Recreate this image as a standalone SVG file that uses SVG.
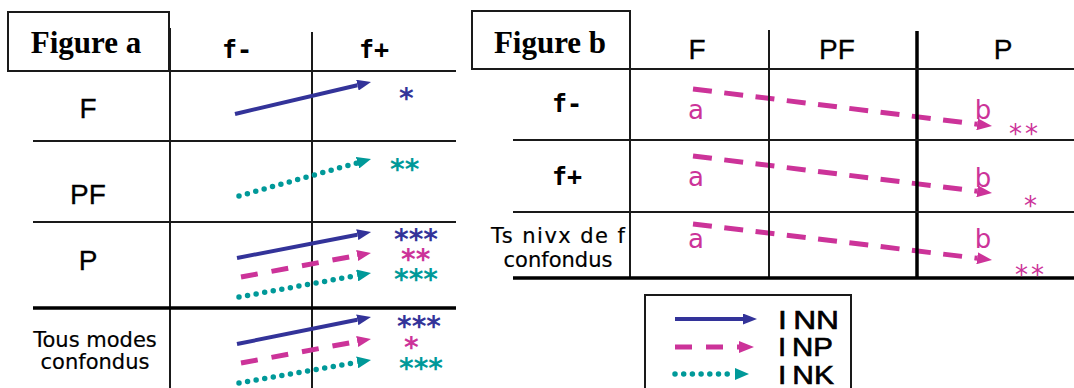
<svg xmlns="http://www.w3.org/2000/svg" width="1074" height="388" viewBox="0 0 1074 388">
<defs>
<style>
.g{stroke:#1a1a1a;stroke-width:2;fill:none}
.gt{stroke:#000;stroke-width:3.5;fill:none}
.ttl{font-family:"Liberation Serif",serif;font-weight:bold;font-size:31px;fill:#000;text-anchor:middle}
.hd{font-family:"Liberation Sans",Arial,sans-serif;font-size:28px;fill:#000;text-anchor:middle;stroke:#000;stroke-width:0.3}
.mono{font-family:"DejaVu Sans Mono",monospace;font-weight:bold;font-size:25px;fill:#000;text-anchor:middle}
.sm{font-family:"DejaVu Sans",sans-serif;font-size:21px;fill:#000;text-anchor:middle;stroke:#000;stroke-width:0.2}
.ab{font-family:"DejaVu Sans",sans-serif;font-size:26px;fill:#cc3399;text-anchor:middle}
.blue{stroke:#333399;stroke-width:4;fill:none}
.mag{stroke:#cc3399;stroke-width:5;fill:none;stroke-dasharray:17 14}
.magb{stroke:#cc3399;stroke-width:5;fill:none;stroke-dasharray:19 12.5}
.teal{stroke:#009999;stroke-width:5.5;fill:none;stroke-dasharray:0 8.7;stroke-linecap:round}
.st{font-family:"DejaVu Sans",sans-serif;font-weight:bold;font-size:28px}
.sts{font-family:"DejaVu Sans",sans-serif;font-size:26px;fill:#cc3399;letter-spacing:3px}
.leg{font-family:"Liberation Sans",Arial,sans-serif;font-size:25px;fill:#000;stroke:#000;stroke-width:0.6}
</style>
<marker id="hb" markerUnits="userSpaceOnUse" markerWidth="14" markerHeight="11" refX="0" refY="5.5" orient="auto"><path d="M0,0L14,5.5L0,11z" fill="#333399"/></marker>
<marker id="hm" markerUnits="userSpaceOnUse" markerWidth="14" markerHeight="11" refX="0" refY="5.5" orient="auto"><path d="M0,0L14,5.5L0,11z" fill="#cc3399"/></marker>
<marker id="ht" markerUnits="userSpaceOnUse" markerWidth="14" markerHeight="12" refX="0" refY="6" orient="auto"><path d="M0,0L14,6L0,12z" fill="#009999"/></marker>
<marker id="hm2" markerUnits="userSpaceOnUse" markerWidth="15" markerHeight="12" refX="0" refY="6" orient="auto"><path d="M0,0L15,6L0,12z" fill="#cc3399"/></marker>
</defs>
<rect width="1074" height="388" fill="#fff"/>

<g id="figure-a-grid">
<rect class="g" x="8" y="12" width="161" height="59"/>
<line class="g" x1="170" y1="28" x2="170" y2="388"/>
<line class="g" x1="312" y1="32" x2="312" y2="388"/>
<line class="g" x1="169" y1="71" x2="456" y2="71"/>
<line class="g" x1="33" y1="141" x2="456" y2="141"/>
<line class="g" x1="33" y1="222" x2="456" y2="222"/>
<line class="gt" x1="33" y1="308" x2="456" y2="308"/>
</g>
<g id="figure-a-title"><text class="ttl" x="86" y="53">Figure a</text></g>
<g id="a-col-fminus"><text class="mono" x="237" y="58">f-</text></g>
<g id="a-col-fplus"><text class="mono" x="374" y="58">f+</text></g>
<g id="a-row-F"><text class="hd" x="88" y="118">F</text></g>
<g id="a-row-PF"><text class="hd" x="88" y="204">PF</text></g>
<g id="a-row-P"><text class="hd" x="88" y="270">P</text></g>
<g id="a-row-tous"><text class="sm" x="95" y="347">Tous modes</text><text class="sm" x="95" y="369">confondus</text></g>

<g id="connectors">
<line class="blue" x1="235" y1="114" x2="357.4" y2="85.2" marker-end="url(#hb)"/>
<line class="teal" x1="239" y1="196" x2="357.5" y2="162.8" marker-end="url(#ht)"/>
<line class="blue" x1="237" y1="258" x2="357.3" y2="234.7" marker-end="url(#hb)"/>
<line class="mag" x1="241" y1="277" x2="357.2" y2="255.5" marker-end="url(#hm)"/>
<line class="teal" x1="239" y1="297" x2="357.2" y2="275.5" marker-end="url(#ht)"/>
<line class="blue" x1="237" y1="344" x2="357.3" y2="319.8" marker-end="url(#hb)"/>
<line class="mag" x1="241" y1="363" x2="357.2" y2="341.5" marker-end="url(#hm)"/>
<line class="teal" x1="239" y1="383" x2="357.2" y2="362.4" marker-end="url(#ht)"/>
<line class="magb" x1="693" y1="89" x2="977.1" y2="124.2" marker-end="url(#hm2)"/>
<line class="magb" x1="693" y1="156" x2="977.1" y2="191.2" marker-end="url(#hm2)"/>
<line class="magb" x1="693" y1="224" x2="977.1" y2="258.2" marker-end="url(#hm2)"/>
</g>

<g id="a-stars">
<text class="st" fill="#333399" x="399" y="108">*</text>
<text class="st" fill="#009999" x="390" y="179">**</text>
<text class="st" fill="#333399" x="394" y="249">***</text>
<text class="st" fill="#cc3399" x="401" y="269">**</text>
<text class="st" fill="#009999" x="394" y="289">***</text>
<text class="st" fill="#333399" x="397" y="336">***</text>
<text class="st" fill="#cc3399" x="404" y="357">*</text>
<text class="st" fill="#009999" x="399" y="378">***</text>
</g>

<g id="figure-b-grid">
<rect class="g" x="472" y="11" width="158" height="58"/>
<line class="g" x1="630" y1="69" x2="630" y2="278"/>
<line class="g" x1="769" y1="30" x2="769" y2="278"/>
<line class="gt" x1="917" y1="31" x2="917" y2="278"/>
<line class="g" x1="630" y1="69" x2="1074" y2="69"/>
<line class="g" x1="513" y1="140" x2="1074" y2="140"/>
<line class="g" x1="513" y1="212" x2="1074" y2="212"/>
<line class="gt" x1="513" y1="278" x2="1074" y2="278"/>
</g>
<g id="figure-b-title"><text class="ttl" x="550" y="53">Figure b</text></g>
<g id="b-col-F"><text class="hd" x="697" y="59">F</text></g>
<g id="b-col-PF"><text class="hd" x="837" y="59">PF</text></g>
<g id="b-col-P"><text class="hd" x="1003" y="59">P</text></g>
<g id="b-row-fminus"><text class="mono" x="567" y="112">f-</text></g>
<g id="b-row-fplus"><text class="mono" x="567" y="185">f+</text></g>
<g id="b-row-ts"><text class="sm" x="558" y="243" textLength="134" lengthAdjust="spacing">Ts nivx de f</text><text class="sm" x="558" y="267">confondus</text></g>
<g id="b-labels">
<text class="ab" x="696" y="119">a</text><text class="ab" x="983" y="119">b</text>
<text class="ab" x="696" y="186">a</text><text class="ab" x="983" y="187">b</text>
<text class="ab" x="696" y="248">a</text><text class="ab" x="983" y="248">b</text>
<text class="sts" x="1009" y="143">**</text>
<text class="sts" x="1024" y="215">*</text>
<text class="sts" x="1015" y="284">**</text>
</g>

<g id="legend">
<rect class="g" x="645" y="295" width="206" height="110"/>
<line class="blue" x1="675" y1="319" x2="743" y2="319" marker-end="url(#hb)"/>
<line class="mag" x1="675" y1="347" x2="739" y2="347" stroke-dasharray="17 15" marker-end="url(#hm2)"/>
<line class="teal" x1="675" y1="374" x2="735" y2="374" stroke-dasharray="0 8.6" marker-end="url(#ht)"/>
<text class="leg" x="778" y="329" textLength="61" lengthAdjust="spacingAndGlyphs">I<tspan dx="5">NN</tspan></text>
<text class="leg" x="778" y="356" textLength="55" lengthAdjust="spacingAndGlyphs">I<tspan dx="5">NP</tspan></text>
<text class="leg" x="778" y="384" textLength="56" lengthAdjust="spacingAndGlyphs">I<tspan dx="5">NK</tspan></text>
</g>
</svg>
